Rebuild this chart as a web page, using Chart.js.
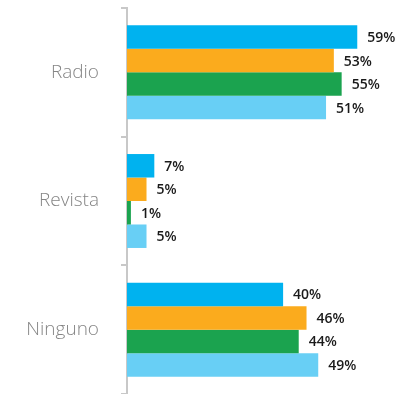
<!DOCTYPE html>
<html>
<head>
<meta charset="utf-8">
<script src="https://cdn.jsdelivr.net/npm/chart.js@4"></script>
<style>
  html, body { margin: 0; padding: 0; background: #fff; }
  #wrap { width: 408px; height: 394px; }
</style>
</head>
<body>
<div id="wrap"><canvas id="chart"></canvas></div>
<script>
const categories = ["Radio", "Revista", "Ninguno"];
const serieA = [59, 7, 40];
const serieB = [53, 5, 46];
const serieC = [55, 1, 44];
const serieD = [51, 5, 49];
const colores = ["#00b2ef", "#fbab1d", "#1ba34f", "#68cff5"];

// percent labels at the end of each bar
const valueLabels = {
  id: "valueLabels",
  afterDatasetsDraw(chart) {
    const ctx = chart.ctx;
    ctx.save();
    ctx.font = "600 14px 'Open Sans', sans-serif";
    ctx.fillStyle = "#1a1a1a";
    ctx.textAlign = "left";
    ctx.textBaseline = "middle";
    chart.data.datasets.forEach((ds, i) => {
      chart.getDatasetMeta(i).data.forEach((bar, j) => {
        ctx.fillText(ds.data[j] + "%", bar.x + 10, bar.y + 1);
      });
    });
    ctx.restore();
  },
};

const data = {
  labels: categories,
  datasets: [serieA, serieB, serieC, serieD].map((vals, i) => ({
    data: vals,
    backgroundColor: colores[i],
    barPercentage: 1,
    categoryPercentage: 0.73,
  })),
};

new Chart("chart", {
  type: "bar",
  data: data,
  plugins: [valueLabels],
  options: {
    indexAxis: "y",
    responsive: true,
    maintainAspectRatio: false,
    animation: false,
    layout: { padding: { top: 8, right: 0, bottom: 0, left: 0 } },
    plugins: {
      legend: { display: false },
      tooltip: { enabled: false },
    },
    scales: {
      x: {
        display: false,
        min: 0,
        max: 72,
      },
      y: {
        grid: {
          drawOnChartArea: false,
          color: "#c8c8c8",
          lineWidth: 2,
          tickLength: 6,
        },
        border: { color: "#c8c8c8", width: 2 },
        ticks: {
          color: "#858585",
          padding: 22,
          font: { family: "'Open Sans', sans-serif", size: 19, weight: 300 },
        },
        afterFit: function (scale) {
          scale.width = 127;
          scale.paddingTop = 0;
          scale.paddingBottom = 0;
        },
      },
    },
  },
});
</script>
</body>
</html>
